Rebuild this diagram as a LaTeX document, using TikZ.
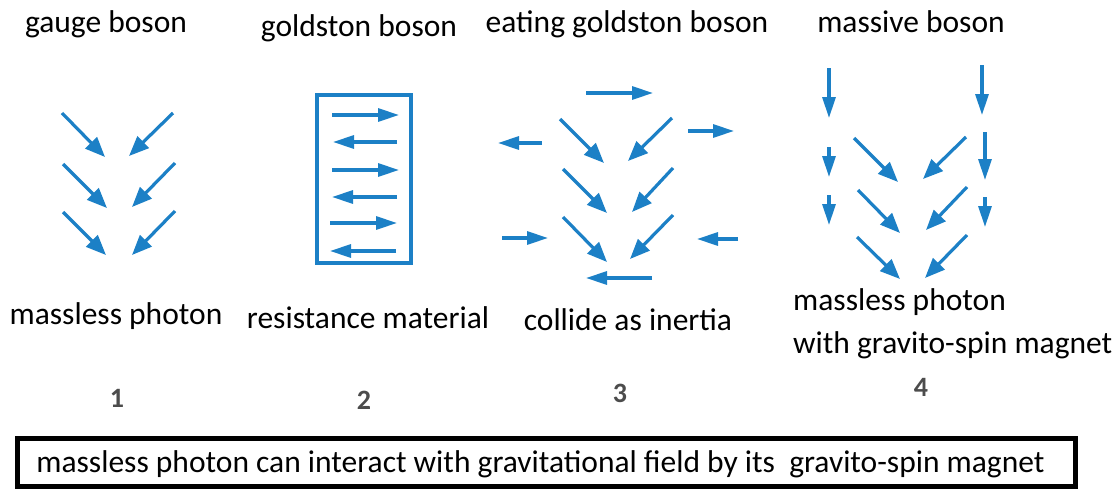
\documentclass[tikz,border=0pt]{standalone}
\usepackage{fontspec}
\setmainfont{Carlito}
\usetikzlibrary{arrows.meta}
\definecolor{arrblue}{RGB}{28,128,198}
\tikzset{
  ar/.style={draw=arrblue, line width=3.2pt, -{Triangle[length=20pt,width=16pt]}},
  arh/.style={draw=arrblue, line width=3.2pt, -{Triangle[length=21pt,width=13pt]}},
  lbl/.style={font=\fontsize{31.5}{34}\selectfont, inner sep=0pt, anchor=center},
  num/.style={font=\bfseries\fontsize{28}{30}\selectfont, inner sep=0pt, text=black!70},
}
\begin{document}
\begin{tikzpicture}[x=1pt,y=-1pt]
\useasboundingbox (0,0) rectangle (1120,491);
% titles
\node[lbl] (t1) at (106,24) {gauge boson};
\node[lbl] (t2) at (359,28) {goldston boson};
\node[lbl] (t3) at (627,24) {eating goldston boson};
\node[lbl] (t4) at (911,22) {massive boson};
% captions
\node[lbl] (c1) at (116,316) {massless photon};
\node[lbl] (c2) at (368,318) {resistance material};
\node[lbl] (c3) at (628,320) {collide as inertia};
\node[lbl, anchor=west] (c4a) at (793,302) {massless photon};
\node[lbl, anchor=west] (c4b) at (793,345) {with gravito-spin magnet};
% numbers
\node[num] (n1) at (117,398) {1};
\node[num] (n2) at (364,400) {2};
\node[num] (n3) at (620,393) {3};
\node[num] (n4) at (921,387) {4};
% panel 1
\draw[ar] (62,113) -- (105,157);
\draw[ar] (63,164) -- (107,208);
\draw[ar] (63,212) -- (106,255);
\draw[ar] (173,113) -- (129,156);
\draw[ar] (175,163) -- (132,207);
\draw[ar] (175,211) -- (132,255);
% panel 2
\draw[draw=arrblue, line width=4pt] (317,95) rectangle (411,263);
\draw[arh] (332,115) -- (399,115);
\draw[arh] (397,142) -- (333,142);
\draw[arh] (332,170) -- (399,170);
\draw[arh] (397,197) -- (332,197);
\draw[arh] (330,223) -- (397,223);
\draw[arh] (396,251) -- (330,251);
% panel 3
\draw[arh] (586,93) -- (653,93);
\draw[arh] (688,131) -- (734,131);
\draw[arh] (542,143) -- (498,143);
\draw[arh] (502,238) -- (548,238);
\draw[arh] (738,239) -- (697,239);
\draw[arh] (652,278) -- (586,278);
\draw[ar] (560,119) -- (604,163);
\draw[ar] (672,118) -- (628,161);
\draw[ar] (563,169) -- (607,213);
\draw[ar] (673,168) -- (632,212);
\draw[ar] (563,217) -- (607,262);
\draw[ar] (673,215) -- (630,259);
% panel 4
\draw[arh] (829,68) -- (829,118);
\draw[arh] (829,147) -- (829,177);
\draw[arh] (829,195) -- (829,225);
\draw[arh] (982,65) -- (982,115);
\draw[arh] (985,132) -- (985,180);
\draw[arh] (985,197) -- (985,227);
\draw[ar] (854,138) -- (898,182);
\draw[ar] (966,137) -- (923,179);
\draw[ar] (858,190) -- (900,233);
\draw[ar] (967,187) -- (926,230);
\draw[ar] (857,237) -- (900,279);
\draw[ar] (967,235) -- (925,278);
% bottom box
\node[draw=black, line width=5pt, minimum width=1058pt, minimum height=48pt, inner sep=0pt] (box) at (546.5,462.5) {};
\node[lbl] (boxtext) at (540.5,464)
      {massless photon can interact with gravitational field by its\ \ gravito-spin magnet};
\end{tikzpicture}
\end{document}
